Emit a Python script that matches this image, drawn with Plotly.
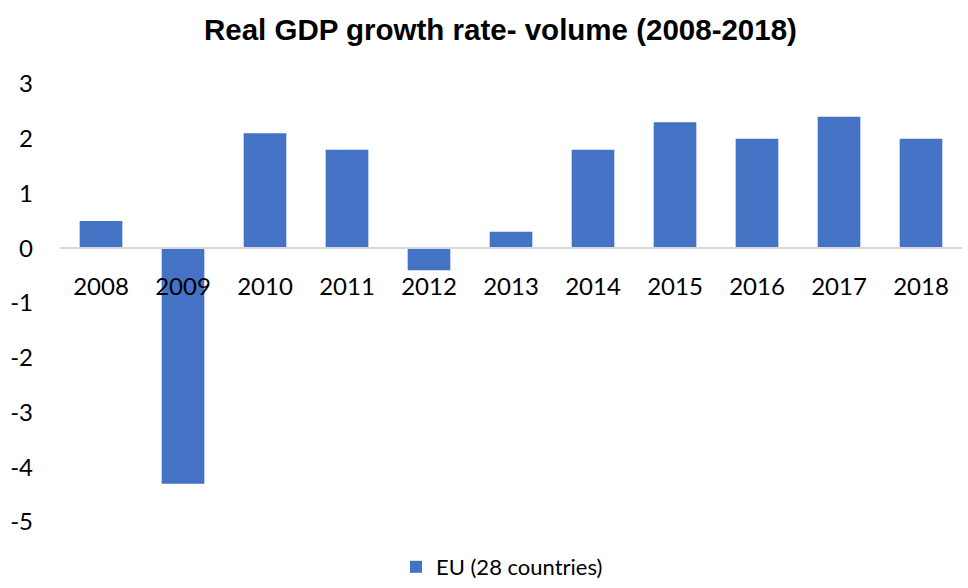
import plotly.graph_objects as go

years = ["2008", "2009", "2010", "2011", "2012", "2013", "2014", "2015", "2016", "2017", "2018"]
growth = [0.5, -4.3, 2.1, 1.8, -0.4, 0.3, 1.8, 2.3, 2.0, 2.4, 2.0]
series_name = "EU (28 countries)"
y_ticks = [-5, -4, -3, -2, -1, 0, 1, 2, 3]
y_tick_text = ["-5", "-4", "-3", "-2", "-1", "0", "1", "2", "3"]

W, H = 968, 588
mt, mb = 84, 66
ymin, ymax = -5, 3
zero_pos = (0 - ymin) / (ymax - ymin)

fig = go.Figure()
fig.add_trace(go.Bar(
    x=years, y=growth, name=series_name,
    marker=dict(color="#4472C4", line=dict(width=0)),
    width=0.52, showlegend=True,
))

fig.update_layout(
    width=W, height=H,
    margin=dict(l=60, r=6, t=mt, b=mb, autoexpand=False),
    paper_bgcolor="white", plot_bgcolor="white",
    font=dict(family="Lato, Open Sans, sans-serif", size=24, color="black"),
    title=dict(text="<b>Real GDP growth rate- volume (2008-2018)</b>",
               x=0.517, xanchor="center", y=0.95, yanchor="middle",
               font=dict(family="Liberation Sans, Arial, sans-serif", size=29.5, color="black")),
    xaxis=dict(anchor="free", position=zero_pos, showline=True, linecolor="#d9d9d9",
               linewidth=1.5, ticks="", showgrid=False, tickfont=dict(size=24),
               ticklabelstandoff=17, automargin=False),
    yaxis=dict(range=[ymin, ymax], tickvals=y_ticks, ticktext=y_tick_text,
               showgrid=False, zeroline=False, automargin=False,
               showline=False, ticks="", tickfont=dict(size=24), ticklabelstandoff=26),
    legend=dict(orientation="h", x=0.49, xanchor="center", yref="container",
                y=0.0, yanchor="bottom", font=dict(size=22), itemwidth=30),
    bargap=0.48,
)

fig.write_html("out.html")
